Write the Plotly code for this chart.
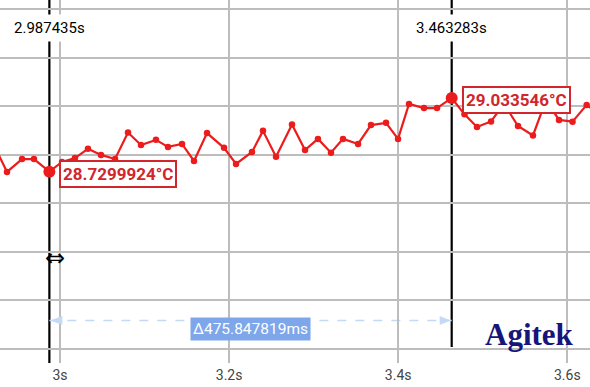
import plotly.graph_objects as go

# ---- data ----
times = [2.9219, 2.9373, 2.9551, 2.9692, 2.987435, 3.0024, 3.0177, 3.0331, 3.0485, 3.0651,
         3.0804, 3.0958, 3.1135, 3.1277, 3.1443, 3.1585, 3.1739, 3.1940, 3.2082, 3.2271,
         3.2401, 3.2555, 3.2744, 3.2898, 3.3051, 3.3205, 3.3347, 3.3525, 3.3678, 3.3856,
         3.3998, 3.4128, 3.4305, 3.4459, 3.463283, 3.4784, 3.4932, 3.5098, 3.5251, 3.5417,
         3.5594, 3.5748, 3.5902, 3.6062, 3.6229, 3.6387]
temps = [28.840, 28.729, 28.782, 28.782, 28.7299924, 28.770, 28.786, 28.824, 28.799, 28.782,
         28.891, 28.840, 28.861, 28.832, 28.844, 28.774, 28.889, 28.828, 28.762, 28.811,
         28.898, 28.791, 28.924, 28.819, 28.865, 28.808, 28.865, 28.844, 28.922, 28.931,
         28.865, 29.009, 28.992, 28.992, 29.033546, 28.966, 28.914, 28.937, 29.009, 28.918,
         28.879, 29.025, 28.943, 28.936, 29.005, 28.964]

cursor_times = [2.987435, 3.463283]
cursor_values = [28.7299924, 29.033546]
cursor_time_labels = ["2.987435s", "3.463283s"]
cursor_value_labels = ["28.7299924°C", "29.033546°C"]
delta_label = "Δ475.847819ms"

x_tickvals = [3.0, 3.2, 3.4, 3.6]
x_ticktext = ["3s", "3.2s", "3.4s", "3.6s"]

RED = "#ec1c1c"
LABEL_RED = "#d0262c"
GRID = "#bdbdbd"
W, H = 590, 387
PLOT_H = 363
cursor_line_bottom = [0.0, 1 - 347 / PLOT_H]

fig = go.Figure()
fig.add_trace(go.Scatter(
    x=times, y=temps, mode="lines+markers",
    line=dict(color=RED, width=2.2),
    marker=dict(color=RED, size=6.5),
    hoverinfo="skip", showlegend=False,
))
fig.add_trace(go.Scatter(
    x=cursor_times, y=cursor_values, mode="markers",
    marker=dict(color=RED, size=12),
    hoverinfo="skip", showlegend=False,
))

shapes = []
annotations = []
# white patch behind logo
shapes.append(dict(type="rect", xref="paper", yref="paper",
                   x0=449 / W, x1=578 / W, y0=0, y1=1 - 347 / PLOT_H,
                   fillcolor="white", line=dict(width=0), layer="between"))
# cursor lines
for t, yb in zip(cursor_times, cursor_line_bottom):
    shapes.append(dict(type="line", xref="x", yref="paper", x0=t, x1=t, y0=yb, y1=1,
                       line=dict(color="black", width=2.2), layer="between"))
# dashed delta line
dash_y = 1 - 320.5 / PLOT_H
shapes.append(dict(type="line", xref="x", yref="paper", x0=cursor_times[0], x1=cursor_times[1],
                   y0=dash_y, y1=dash_y, line=dict(color="#c4daf4", width=1.5, dash="dash"),
                   layer="between"))
# arrowheads
shapes.append(dict(type="path", xref="x", yref="paper", xsizemode="pixel", ysizemode="pixel",
                   xanchor=cursor_times[0], yanchor=dash_y,
                   path="M1,0 L13,4.5 L13,-4.5 Z", fillcolor="#c4daf4",
                   line=dict(width=0), layer="above"))
shapes.append(dict(type="path", xref="x", yref="paper", xsizemode="pixel", ysizemode="pixel",
                   xanchor=cursor_times[1], yanchor=dash_y,
                   path="M-1,0 L-12,4.5 L-12,-4.5 Z", fillcolor="#c4daf4",
                   line=dict(width=0), layer="above"))

# cursor time labels at top
for t, lab in zip(cursor_times, cursor_time_labels):
    annotations.append(dict(x=t, y=1 - 28 / PLOT_H, xref="x", yref="paper", text=lab,
                            showarrow=False, font=dict(family="Roboto", size=15, color="black"),
                            bgcolor="white", borderpad=4, xanchor="center", yanchor="middle"))
# value labels
for t, v, lab in zip(cursor_times, cursor_values, cursor_value_labels):
    annotations.append(dict(x=t, y=v, xref="x", yref="y", text="<b>" + lab + "</b>",
                            showarrow=False, xanchor="left", yanchor="middle", xshift=10, yshift=-2,
                            font=dict(family="Roboto", size=17, color=LABEL_RED),
                            bgcolor="white", bordercolor=LABEL_RED, borderwidth=2, borderpad=2))
# delta label
annotations.append(dict(x=(cursor_times[0] + cursor_times[1]) / 2, y=1 - 328.5 / PLOT_H,
                        xref="x", yref="paper", text=delta_label, showarrow=False,
                        font=dict(family="Roboto", size=15.5, color="white"),
                        bgcolor="#7ea6ea", borderpad=2, xanchor="center", yanchor="middle"))
# resize cursor glyph
annotations.append(dict(x=55 / W, y=1 - 258 / PLOT_H, xref="paper", yref="paper", text="⇔",
                        showarrow=False, font=dict(family="DejaVu Sans", size=24, color="black"),
                        xanchor="center", yanchor="middle"))
# logo
annotations.append(dict(x=529 / W, y=1 - 334 / PLOT_H, xref="paper", yref="paper",
                        text="<b>Agitek</b>", showarrow=False,
                        font=dict(family="Liberation Serif", size=31, color="#15157a"),
                        xanchor="center", yanchor="middle"))

fig.update_layout(
    width=W, height=H,
    margin=dict(l=0, r=0, t=0, b=H - PLOT_H),
    paper_bgcolor="white", plot_bgcolor="white",
    shapes=shapes, annotations=annotations,
    showlegend=False,
    xaxis=dict(range=[2.92904, 3.62685], tickvals=x_tickvals, ticktext=x_ticktext,
               showgrid=True, gridcolor=GRID, gridwidth=1.6, zeroline=False,
               showline=False, ticks="", ticklabelstandoff=2,
               tickfont=dict(family="Roboto", size=14, color="#444444")),
    yaxis=dict(range=[27.942, 29.437], dtick=0.2, tick0=28.0, showticklabels=False,
               showgrid=True, gridcolor=GRID, gridwidth=1.6, zeroline=False,
               showline=False, ticks=""),
)

fig.write_html("out.html")
